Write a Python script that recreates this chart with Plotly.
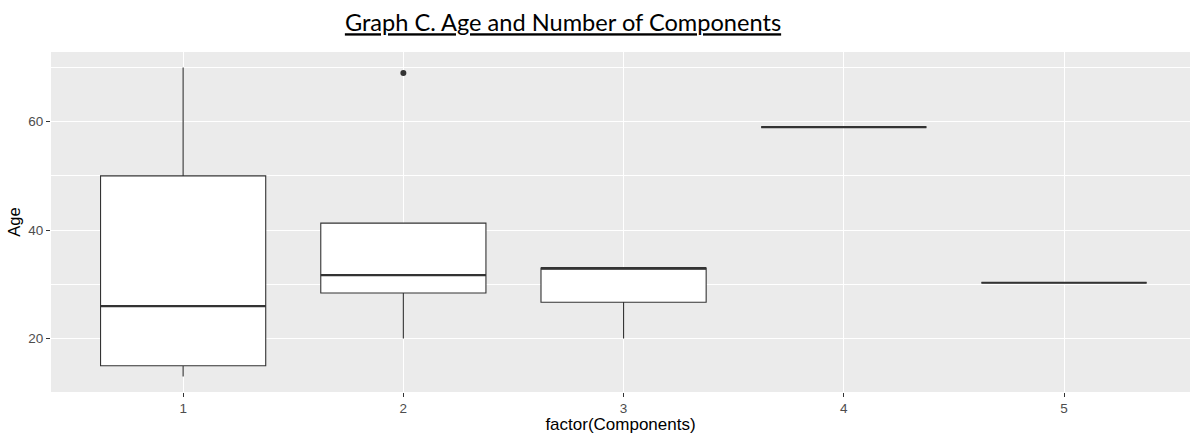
import plotly.graph_objects as go

# Box statistics (Age by number of components)
components = [1, 2, 3, 4, 5]
lower_whisker = [13, 20, 20, 59, 30.3]
q1 = [15, 28.4, 26.7, 59, 30.3]
median = [26, 31.7, 33, 59, 30.3]
q3 = [50, 41.3, 33, 59, 30.3]
upper_whisker = [70, 41.3, 33, 59, 30.3]
outlier_x = [2]
outlier_y = [69]

y_major = [20, 40, 60]
box_width = 0.75
dark = "#333333"

fig = go.Figure()
fig.add_trace(go.Box(
    x=components, q1=q1, median=median, q3=q3,
    lowerfence=lower_whisker, upperfence=upper_whisker,
    width=box_width, whiskerwidth=0,
    fillcolor="white", line=dict(color=dark, width=1.1),
    boxpoints=False, showlegend=False,
))

# thicker median segments (ggplot fatten)
mx, my = [], []
for c, m in zip(components, median):
    mx += [c - box_width / 2, c + box_width / 2, None]
    my += [m, m, None]
fig.add_trace(go.Scatter(x=mx, y=my, mode="lines",
                         line=dict(color=dark, width=2.2),
                         showlegend=False, hoverinfo="skip"))

fig.add_trace(go.Scatter(x=outlier_x, y=outlier_y, mode="markers",
                         marker=dict(color=dark, size=6),
                         showlegend=False))

fig.update_layout(
    width=1190, height=434,
    margin=dict(l=51, r=0, t=52, b=42, autoexpand=False),
    paper_bgcolor="white", plot_bgcolor="#EBEBEB",
    font=dict(family="Liberation Sans, Arial, sans-serif"),
    title=dict(
        text="<u>Graph C. Age and Number of Components</u>",
        font=dict(family="Lato, Carlito, Calibri, sans-serif", size=23.6, color="black"),
        xref="container", yref="container",
        x=563 / 1190, xanchor="center", y=1 - 23 / 434, yanchor="middle",
    ),
    xaxis=dict(
        range=[0.4, 1 + (1190 - 183) / 220.25],
        tickvals=components, ticktext=[str(c) for c in components],
        showgrid=True, gridcolor="white", gridwidth=1.1,
        zeroline=False, showline=False,
        ticks="outside", ticklen=4, tickcolor=dark, tickwidth=1,
        tickfont=dict(size=13.5, color="#4D4D4D"),
        title=dict(text="factor(Components)", font=dict(size=17, color="black"), standoff=0),
    ),
    yaxis=dict(
        range=[10.15, 72.85],
        tickvals=y_major,
        showgrid=True, gridcolor="white", gridwidth=1.1,
        minor=dict(tickvals=[10, 30, 50, 70], showgrid=True, gridcolor="white", gridwidth=0.6, ticks=""),
        zeroline=False, showline=False,
        ticks="outside", ticklen=4, tickcolor=dark, tickwidth=1,
        tickfont=dict(size=13.5, color="#4D4D4D"),
        title=dict(text="Age", font=dict(size=16.5, color="black"), standoff=3),
    ),
)

fig.write_html(
    "out.html",
    config={"displayModeBar": False},
    post_script="document.body.style.margin='0';document.body.style.overflow='hidden';",
)
